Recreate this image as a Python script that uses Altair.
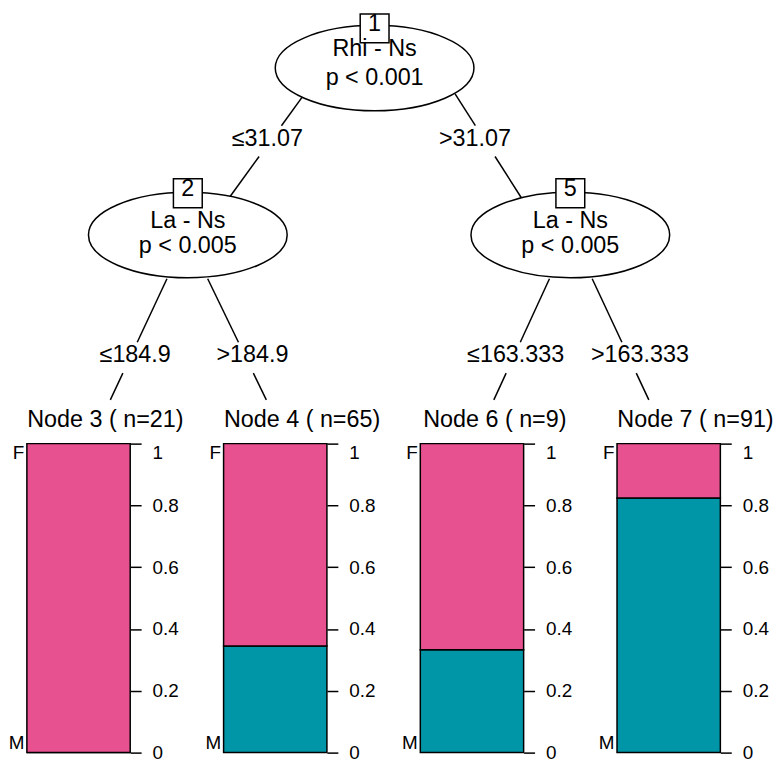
import altair as alt
import pandas as pd

FONT = "Liberation Sans"
PINK = "#E8518F"
TEAL = "#0096A8"
FS = 23.5

# ---------------- tree data (layout positions in page pixels) ----------------
inner_ids = [1, 2, 5]
inner_var = ["Rhi - Ns", "La - Ns", "La - Ns"]
inner_p = ["p < 0.001", "p < 0.005", "p < 0.005"]
inner_x = [373, 185, 570]
inner_y = [62, 230, 230]
box_y = [22, 188, 188]
var_y = [47, 220, 220]
p_y = [76, 245, 245]

edge_labels = ["≤31.07", ">31.07", "≤184.9", ">184.9", "≤163.333", ">163.333"]
edge_x1 = [301, 454, 164, 205, 549, 592]
edge_y1 = [90, 88, 274, 274, 274, 274]
edge_x2 = [227, 521, 107, 264, 493, 649]
edge_y2 = [192, 193, 396, 396, 396, 396]
label_x = [265, 474, 132, 250, 515, 640]
label_y = [137, 137, 355, 355, 355, 355]

leaf_ids = [3, 4, 6, 7]
leaf_n = [21, 65, 9, 91]
leaf_title_x = [102, 300, 494, 696]
leaf_title_y = 420

# leaf class proportions (M = bottom, teal; F = top, pink)
prop_M = [0.0, 0.345, 0.333, 0.824]

# ---------------- build tables ----------------
nodes = pd.DataFrame({"id": inner_ids, "var": inner_var, "p": inner_p,
                      "x": inner_x, "y": inner_y, "by": box_y, "vy": var_y, "py": p_y})
nodes["lbl"] = nodes["id"].astype(str)

segs = []
for i in range(len(edge_labels)):
    x1, y1, x2, y2 = edge_x1[i], edge_y1[i], edge_x2[i], edge_y2[i]
    ly = label_y[i]
    def xa(yy):
        return x1 + (x2 - x1) * (yy - y1) / (y2 - y1)
    segs.append({"x": x1, "y": y1, "x2": xa(ly - 17), "y2": ly - 17})
    segs.append({"x": xa(ly + 14), "y": ly + 14, "x2": x2, "y2": y2})
segs = pd.DataFrame(segs)
elabels = pd.DataFrame({"x": label_x, "y": label_y, "t": edge_labels})
ltitles = pd.DataFrame({"x": leaf_title_x, "y": [leaf_title_y] * 4,
                        "t": [f"Node {a} ( n={b})" for a, b in zip(leaf_ids, leaf_n)]})

X0, W = 23, 750
Y0, H = 8, 424
xs = alt.Scale(domain=[X0, X0 + W], nice=False, zero=False)
ys = alt.Scale(domain=[Y0, Y0 + H], nice=False, zero=False, reverse=True)

def X(f="x"):
    return alt.X(f"{f}:Q", scale=xs, axis=None)

def Y(f="y"):
    return alt.Y(f"{f}:Q", scale=ys, axis=None)

k = 0.5523
a = 0.43
ak = round(a * k, 4)
ELLIPSE = (f"M 1 0 C 1 {ak} {k} {a} 0 {a} C {-k} {a} -1 {ak} -1 0 "
           f"C -1 {-ak} {-k} {-a} 0 {-a} C {k} {-a} 1 {-ak} 1 0 Z")

rules = alt.Chart(segs).mark_rule(color="black", strokeWidth=1.5).encode(
    x=X(), y=Y(), x2="x2:Q", y2="y2:Q")
ell = alt.Chart(nodes).mark_point(shape=ELLIPSE, size=40000, filled=True, fill="white",
                                  stroke="black", strokeWidth=1.5, opacity=1).encode(x=X(), y=Y())
boxes = alt.Chart(nodes).mark_square(size=841, fill="white", stroke="black",
                                     strokeWidth=1.5, opacity=1).encode(x=X(), y=Y("by"))
txt = dict(font=FONT, fontSize=FS, color="black", baseline="middle", align="center", dy=-4)
boxnum = alt.Chart(nodes).mark_text(**txt).encode(x=X(), y=Y("by"), text="lbl:N")
vtxt = alt.Chart(nodes).mark_text(**txt).encode(x=X(), y=Y("vy"), text="var:N")
ptxt = alt.Chart(nodes).mark_text(**txt).encode(x=X(), y=Y("py"), text="p:N")
etxt = alt.Chart(elabels).mark_text(**txt).encode(x=X(), y=Y(), text="t:N")
ttxt = alt.Chart(ltitles).mark_text(**txt).encode(x=X(), y=Y(), text="t:N")

tree = alt.layer(rules, ell, boxes, boxnum, vtxt, ptxt, etxt, ttxt).properties(width=W, height=H)

# ---------------- leaf bar panels ----------------
rows = []
for nid, pm in zip(leaf_ids, prop_M):
    rows.append({"node": nid, "cls": "M", "prop": pm, "ord": 0})
    rows.append({"node": nid, "cls": "F", "prop": round(1 - pm, 4), "ord": 1})
leaf_df = pd.DataFrame(rows)

def panel(nid):
    d = leaf_df[leaf_df["node"] == nid]
    bars = alt.Chart(d).mark_bar(stroke="black", strokeWidth=1.5).encode(
        x=alt.X("node:N", scale=alt.Scale(paddingInner=0, paddingOuter=0), axis=None),
        y=alt.Y("prop:Q", stack="zero",
                scale=alt.Scale(domain=[0, 1], nice=False),
                axis=alt.Axis(orient="right", values=[0, 0.2, 0.4, 0.6, 0.8, 1], format="~g",
                              title=None, domain=False, grid=False, tickSize=11,
                              tickWidth=1.5, tickColor="black", labelPadding=11,
                              labelFont=FONT, labelFontSize=19, labelColor="black",
                              labelBaseline={"condition": {"test": "datum.value == 1", "value": "top"},
                                             "value": "middle"})),
        color=alt.Color("cls:N", scale=alt.Scale(domain=["F", "M"], range=[PINK, TEAL]), legend=None),
        order=alt.Order("ord:Q"),
    )
    left = alt.Chart(d).mark_point(opacity=0).encode(
        y=alt.Y("prop:Q", scale=alt.Scale(domain=[0, 1], nice=False),
                axis=alt.Axis(orient="left", values=[0, 1],
                              labelExpr="datum.value == 1 ? 'F' : 'M'",
                              title=None, domain=False, grid=False, ticks=False, tickSize=0,
                              labelFont=FONT, labelFontSize=19, labelColor="black",
                              labelPadding=3, labelFlush=True)))
    return alt.layer(bars, left).resolve_scale(y="independent").properties(width=104, height=311)

bottom = alt.hconcat(*[panel(n) for n in leaf_ids], spacing=94, bounds="flush")

chart = alt.vconcat(tree, bottom, spacing=8, bounds="flush").properties(padding=0).configure_view(
    strokeWidth=0).configure_axis(labelFont=FONT, labelFontSize=19, labelColor="black")

chart.save("out.html", embed_options={"renderer": "svg", "actions": False})
